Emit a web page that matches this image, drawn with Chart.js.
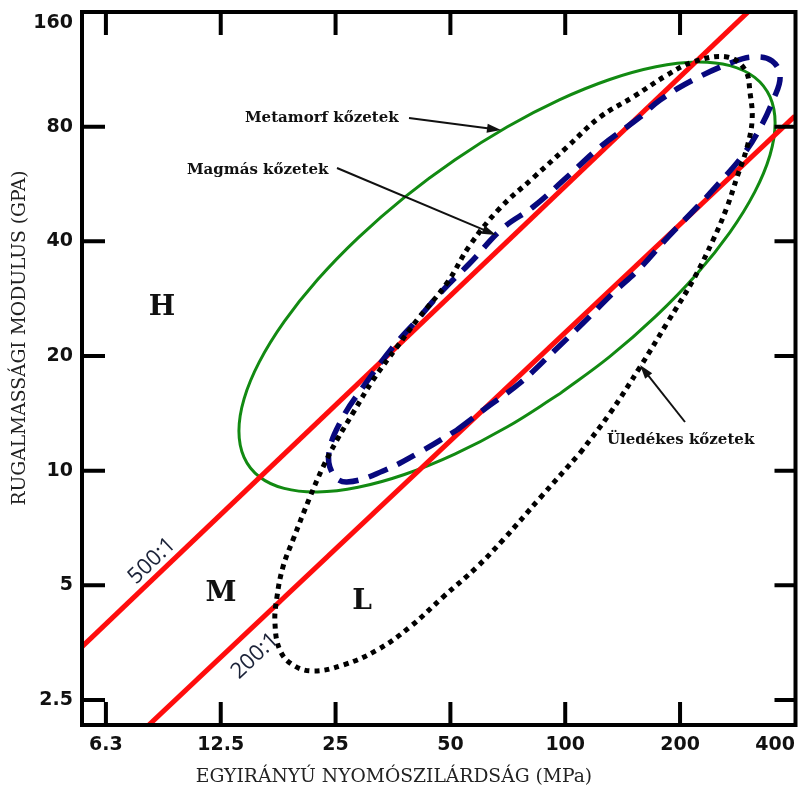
<!DOCTYPE html>
<html lang="hu">
<head>
<meta charset="utf-8">
<title>Rugalmassági modulus – egyirányú nyomószilárdság</title>
<script src="https://cdn.jsdelivr.net/npm/chart.js@4.4.1/dist/chart.umd.min.js"></script>
<style>
  html, body { margin: 0; padding: 0; background: #fff; }
  #wrap { width: 802px; height: 796px; }
</style>
</head>
<body>
<div id="wrap"><canvas id="chart" width="802" height="796"></canvas></div>
<script>
// tengelyek (log-log)
const xTicks = [6.25, 12.5, 25, 50, 100, 200, 400];
const xTickLabels = ['6.3', '12.5', '25', '50', '100', '200', '400'];
const yTicks = [2.5, 5, 10, 20, 40, 80, 160];
const yTickLabels = ['2.5', '5', '10', '20', '40', '80', '160'];
const xRange = [5.41, 401.5];
const yRange = [2.15, 160];

// modulus arány vonalak
const ratio500X = [5, 400];
const ratio500Y = [3.2, 209.6];
const ratio200X = [5, 400];
const ratio200Y = [1.364, 85.3];

// metamorf kőzetek (zöld)
const metamorfX = [96.49, 70.37, 51.33, 37.88, 28.64, 22.41, 18.33, 15.78, 14.39, 13.95, 14.39, 15.78, 18.33, 22.41, 28.64, 37.88, 51.33, 70.37, 96.49, 130.8, 172.9, 221.0, 270.2, 313.8, 344.1, 355.0, 344.1, 313.8, 270.2, 221.0, 172.9, 130.8, 96.49];
const metamorfY = [15.89, 13.02, 11.05, 9.771, 9.045, 8.790, 8.984, 9.642, 10.84, 12.71, 15.44, 19.30, 24.61, 31.70, 40.85, 52.20, 65.43, 79.84, 94.07, 106.4, 114.9, 118.3, 115.7, 107.8, 95.88, 81.78, 67.32, 53.86, 42.24, 32.79, 25.45, 19.92, 15.89];

// magmás kőzetek (kék szaggatott)
const magmasX = [52.04, 63.51, 76.12, 92.90, 111.4, 133.5, 157.1, 184.9, 221.6, 254.6, 292.6, 324.2, 350.7, 365.9, 348.6, 310.8, 275.5, 216.4, 177.3, 157.1, 123.4, 101.1, 82.34, 68.69, 56.29, 47.82, 40.87, 35.36, 29.50, 26.15, 24.03, 24.62, 26.78, 33.29, 41.62, 52.04];
const magmasY = [12.79, 14.87, 16.99, 20.49, 24.41, 29.27, 34.04, 40.81, 49.23, 57.25, 67.41, 79.36, 93.99, 108.0, 119.0, 121.9, 118.3, 106.1, 93.99, 84.80, 70.74, 59.01, 49.23, 43.35, 35.09, 29.80, 24.86, 21.12, 16.58, 13.83, 11.19, 9.80, 9.34, 9.98, 11.19, 12.79];

// üledékes kőzetek (fekete pontozott)
const uledekesX = [109.4, 131.1, 157.1, 184.9, 216.4, 244.1, 265.6, 282.2, 299.8, 309.0, 305.2, 296.2, 265.6, 216.4, 184.9, 150.6, 123.4, 101.1, 82.34, 67.47, 56.29, 48.99, 40.87, 36.22, 31.34, 27.77, 25.21, 23.17, 21.42, 19.33, 18.20, 17.55, 17.34, 17.87, 19.33, 21.81, 26.15, 32.10, 39.18, 47.82, 58.72, 68.69, 85.90, 109.4];
const uledekesY = [11.13, 14.17, 18.71, 24.41, 31.66, 40.32, 49.23, 59.01, 70.74, 83.29, 98.05, 112.7, 121.9, 118.3, 109.3, 95.71, 84.80, 70.74, 58.66, 48.93, 39.12, 31.09, 24.86, 21.12, 17.30, 14.17, 12.04, 10.22, 8.53, 6.58, 5.59, 4.66, 3.98, 3.38, 3.09, 2.98, 3.09, 3.38, 3.89, 4.66, 5.59, 6.58, 8.48, 11.13];

function pontok(xs, ys) {
  return xs.map((x, i) => ({ x: x, y: ys[i] }));
}

// feliratok és nyilak (képpontban)
const feliratok = [
  { text: 'Metamorf kőzetek', x: 245, y: 118, from: [409, 118], to: [501, 130] },
  { text: 'Magmás kőzetek', x: 187, y: 170, from: [337, 168], to: [496, 235] },
  { text: 'Üledékes kőzetek', x: 607, y: 440, from: [685, 422], to: [640, 365] }
];
const betuk = [
  { text: 'H', x: 162, y: 308 },
  { text: 'M', x: 221, y: 594 },
  { text: 'L', x: 362, y: 602 }
];

function nyil(ctx, x1, y1, x2, y2) {
  const a = Math.atan2(y2 - y1, x2 - x1);
  const c = Math.cos(a), s = Math.sin(a);
  ctx.beginPath();
  ctx.moveTo(x1, y1);
  ctx.lineTo(x2 - 8 * c, y2 - 8 * s);
  ctx.stroke();
  ctx.beginPath();
  ctx.moveTo(x2, y2);
  ctx.lineTo(x2 - 14 * c + 4.5 * s, y2 - 14 * s - 4.5 * c);
  ctx.lineTo(x2 - 14 * c - 4.5 * s, y2 - 14 * s + 4.5 * c);
  ctx.closePath();
  ctx.fill();
}

const keret = {
  id: 'keret',
  afterDatasetsDraw(chart) {
    const { ctx, chartArea: a, scales: { x, y } } = chart;
    ctx.save();

    // arány feliratok a vonalak mentén
    const ang500 = Math.atan2(y.getPixelForValue(ratio500Y[1]) - y.getPixelForValue(ratio500Y[0]),
                              x.getPixelForValue(ratio500X[1]) - x.getPixelForValue(ratio500X[0]));
    const ang200 = Math.atan2(y.getPixelForValue(ratio200Y[1]) - y.getPixelForValue(ratio200Y[0]),
                              x.getPixelForValue(ratio200X[1]) - x.getPixelForValue(ratio200X[0]));
    ctx.fillStyle = '#1b2238';
    ctx.font = '22px "Open Sans"';
    ctx.textAlign = 'center';
    ctx.textBaseline = 'middle';
    [['500:1', 152, 561, ang500], ['200:1', 255, 656, ang200]].forEach(([t, px, py, ang]) => {
      ctx.save();
      ctx.translate(px, py);
      ctx.rotate(ang);
      ctx.fillText(t, 0, 0);
      ctx.restore();
    });

    // keret
    ctx.strokeStyle = '#000';
    ctx.lineWidth = 4;
    ctx.lineJoin = 'miter';
    ctx.strokeRect(a.left, a.top, a.right - a.left, a.bottom - a.top);

    // befelé mutató osztásjelek
    ctx.beginPath();
    xTicks.forEach(v => {
      const px = x.getPixelForValue(v);
      if (px > a.right - 5) return;
      ctx.moveTo(px, a.bottom); ctx.lineTo(px, a.bottom - 23);
      ctx.moveTo(px, a.top); ctx.lineTo(px, a.top + 23);
    });
    yTicks.forEach(v => {
      const py = y.getPixelForValue(v);
      if (py < a.top + 5) return;
      ctx.moveTo(a.left, py); ctx.lineTo(a.left + 23, py);
      ctx.moveTo(a.right, py); ctx.lineTo(a.right - 21, py);
    });
    ctx.stroke();

    // nagybetűk
    ctx.fillStyle = '#111';
    ctx.font = 'bold 28px "DejaVu Serif"';
    ctx.textAlign = 'center';
    betuk.forEach(b => ctx.fillText(b.text, b.x, b.y));

    // kőzet feliratok nyilakkal
    ctx.font = 'bold 15px "DejaVu Serif"';
    ctx.textAlign = 'left';
    ctx.lineWidth = 2;
    ctx.strokeStyle = '#111';
    feliratok.forEach(f => {
      ctx.fillText(f.text, f.x, f.y);
      nyil(ctx, f.from[0], f.from[1], f.to[0], f.to[1]);
    });

    // tengelycímek
    ctx.fillStyle = '#222';
    ctx.font = '18.7px "DejaVu Serif"';
    ctx.textAlign = 'center';
    ctx.fillText('EGYIRÁNYÚ NYOMÓSZILÁRDSÁG (MPa)', 394, 777);
    ctx.save();
    ctx.translate(20, 338);
    ctx.rotate(-Math.PI / 2);
    ctx.fillText('RUGALMASSÁGI MODULUS (GPA)', 0, 0);
    ctx.restore();

    ctx.restore();
  }
};

const tickFont = { family: '"DejaVu Sans"', size: 19, weight: 'bold' };

new Chart(document.getElementById('chart'), {
  type: 'scatter',
  data: {
    datasets: [
      {
        label: 'Üledékes kőzetek',
        data: pontok(uledekesX, uledekesY),
        showLine: true, tension: 0.4, order: 0,
        borderColor: '#000', borderWidth: 5, borderDash: [5, 5], borderCapStyle: 'butt'
      },
      {
        label: 'Magmás kőzetek',
        data: pontok(magmasX, magmasY),
        showLine: true, tension: 0.4, order: 1,
        borderColor: '#08087e', borderWidth: 5.5, borderDash: [20, 11], borderCapStyle: 'butt'
      },
      {
        label: '500:1',
        data: pontok(ratio500X, ratio500Y),
        showLine: true, order: 2,
        borderColor: '#ff0d0d', borderWidth: 5
      },
      {
        label: '200:1',
        data: pontok(ratio200X, ratio200Y),
        showLine: true, order: 2,
        borderColor: '#ff0d0d', borderWidth: 5
      },
      {
        label: 'Metamorf kőzetek',
        data: pontok(metamorfX, metamorfY),
        showLine: true, tension: 0.4, order: 3,
        borderColor: '#128a12', borderWidth: 3
      }
    ]
  },
  options: {
    responsive: false,
    animation: false,
    layout: { padding: { left: 0, top: 12, right: 6.5, bottom: 0 } },
    elements: { point: { radius: 0, hoverRadius: 0 } },
    plugins: {
      legend: { display: false },
      tooltip: { enabled: false }
    },
    scales: {
      x: {
        type: 'logarithmic',
        min: xRange[0],
        max: xRange[1],
        grid: { display: false, drawTicks: false },
        border: { display: false },
        afterBuildTicks: s => { s.ticks = xTicks.map(v => ({ value: v })); },
        afterFit: s => { s.height = 71; s.paddingLeft = 0; s.paddingRight = 0; },
        ticks: {
          autoSkip: false, maxRotation: 0, padding: 9, color: '#111', font: tickFont,
          callback: (v, i) => i === xTickLabels.length - 1 ? xTickLabels[i] + '\u00a0'.repeat(6) : xTickLabels[i]
        }
      },
      y: {
        type: 'logarithmic',
        min: yRange[0],
        max: yRange[1],
        grid: { display: false, drawTicks: false },
        border: { display: false },
        afterBuildTicks: s => { s.ticks = yTicks.map(v => ({ value: v })); },
        afterFit: s => { s.width = 82; s.paddingTop = 0; s.paddingBottom = 0; },
        ticks: {
          autoSkip: false, padding: 9, color: '#111', font: tickFont,
          callback: (v, i) => i === yTickLabels.length - 1 ? ['', yTickLabels[i]] : yTickLabels[i]
        }
      }
    }
  },
  plugins: [keret]
});
</script>
</body>
</html>
